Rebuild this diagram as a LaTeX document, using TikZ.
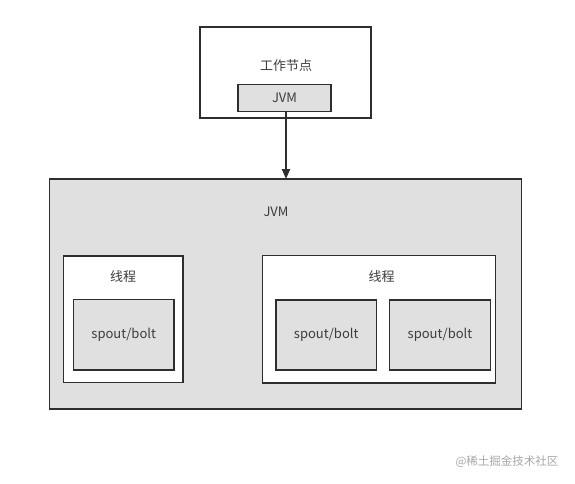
\documentclass[tikz,border=0pt]{standalone}
\usepackage{fontspec}
\setmainfont{Noto Sans CJK SC}
\usetikzlibrary{arrows.meta}
\definecolor{boxfill}{HTML}{E0E0E0}
\definecolor{linec}{HTML}{2E2E2E}
\definecolor{txt}{HTML}{3C3C3C}
\definecolor{wm}{HTML}{A8A8A8}
\begin{document}
\begin{tikzpicture}[x=1pt,y=-1pt,
  box/.style={draw=linec,line width=1.6pt,rectangle,inner sep=0pt,outer sep=0pt},
  gbox/.style={box,fill=boxfill},
  wbox/.style={box,fill=white},
  lbl/.style={text=txt,font=\fontsize{13}{15}\selectfont,inner sep=0pt}]
\useasboundingbox (0,0) rectangle (575,484);
\fill[white] (0,0) rectangle (575,484);
% top worker node
\node[wbox,minimum width=171pt,minimum height=91pt] (worker) at (285.5,72.5) {};
\node[lbl] (workerlbl) at (286,66) {工作节点};
\node[gbox,minimum width=93pt,minimum height=27pt] (jvmsmall) at (284.5,98) {};
\node[lbl] at (284.5,98) {JVM};
% big JVM
\node[gbox,minimum width=472pt,minimum height=230pt] (jvmbig) at (285.5,294) {};
\node[lbl] (jvmlbl) at (276,212) {JVM};
% left thread
\node[wbox,minimum width=119.5pt,minimum height=126.5pt] (t1) at (123.25,319.25) {};
\node[lbl] (t1lbl) at (123,277) {线程};
\node[gbox,minimum width=100.5pt,minimum height=70.5pt] (s1) at (123.75,334.75) {};
\node[lbl] (sb1) at (123.7,335) {spout/bolt};
% right thread
\node[wbox,minimum width=233pt,minimum height=127.5pt] (t2) at (379,319.25) {};
\node[lbl] (t2lbl) at (381.5,277) {线程};
\node[gbox,minimum width=100.5pt,minimum height=70pt] (s2) at (326.25,335) {};
\node[lbl] (sb2) at (326.2,335) {spout/bolt};
\node[gbox,minimum width=101pt,minimum height=70pt] (s3) at (440,335) {};
\node[lbl] (sb3) at (440,335) {spout/bolt};
% arrow
\draw[draw=linec,line width=2pt,-{Triangle[length=10pt,width=8pt]}] (jvmsmall.south -| workerlbl.center) -- (jvmbig.north -| workerlbl.center);
% watermark
\node[text=wm,font=\fontsize{11.5}{13}\selectfont,inner sep=0pt] (wmk) at (507,462) {@稀土掘金技术社区};
\end{tikzpicture}
\end{document}
